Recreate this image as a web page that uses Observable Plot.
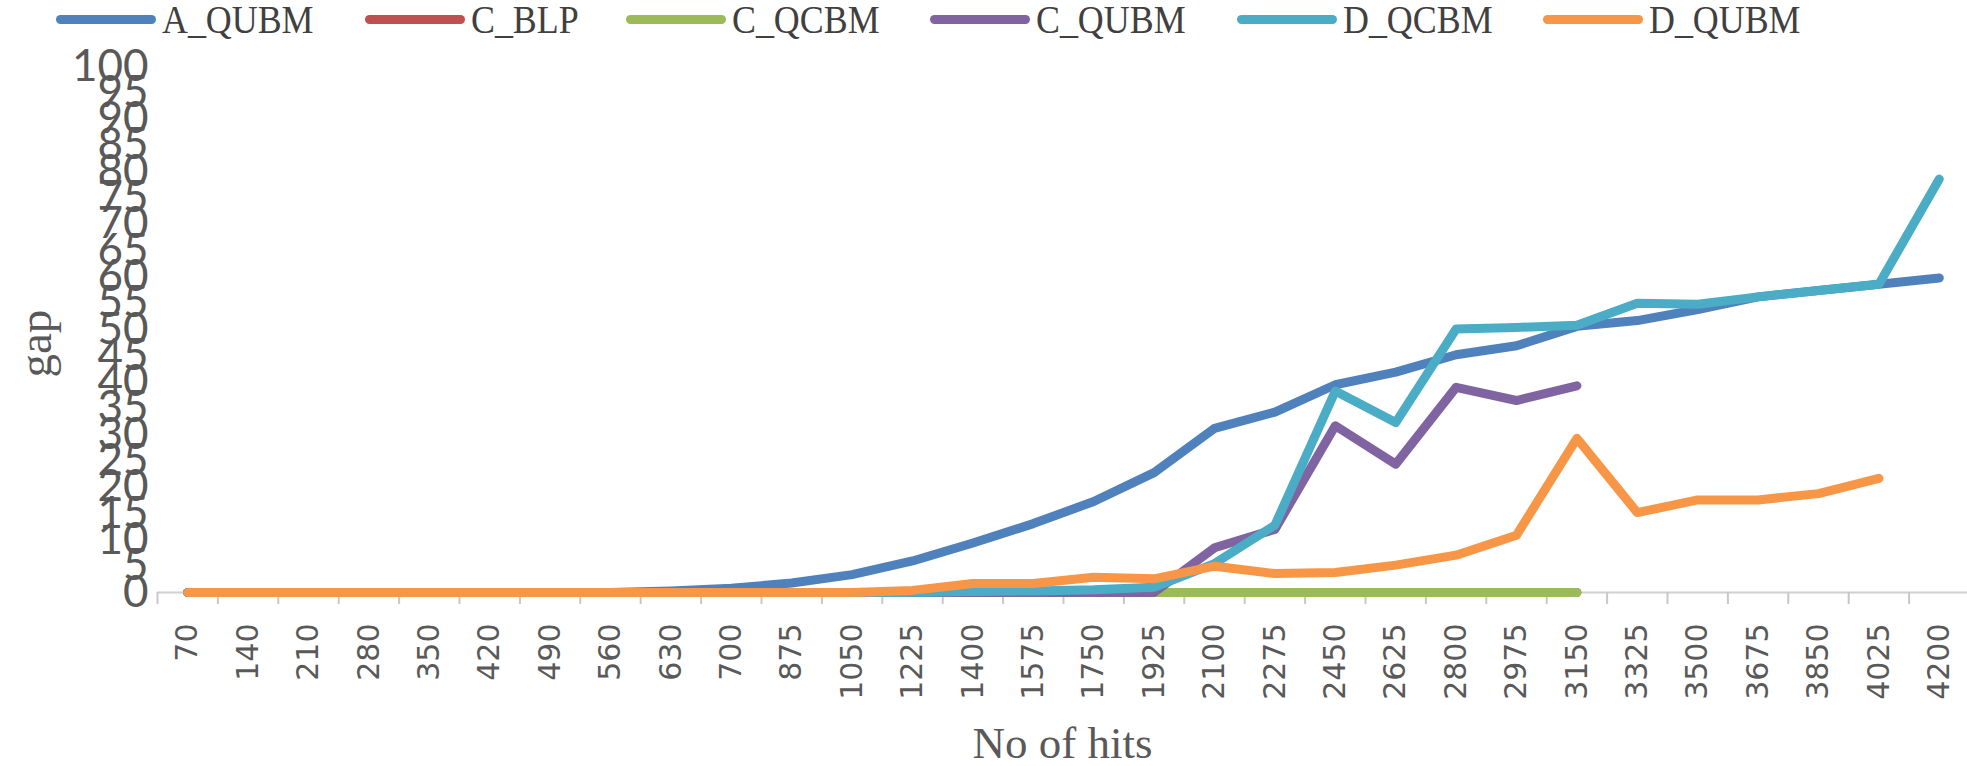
<!DOCTYPE html>
<html>
<head>
<meta charset="utf-8">
<script src="https://cdn.jsdelivr.net/npm/d3@7"></script>
<script src="https://cdn.jsdelivr.net/npm/@observablehq/plot@0.6"></script>
<style>
  html, body { margin: 0; padding: 0; background: #fff; }
  #legend { display: flex; align-items: center; height: 38px; padding-left: 56px; box-sizing: border-box;
            font-family: "Liberation Serif", serif; font-size: 39px; color: #404040; line-height: 1; }
  .item { display: flex; align-items: center; margin-right: 50px; }
  .sw { width: 100px; height: 9px; border-radius: 5px; margin-right: 6px; flex: none; }
  .tx { display: inline-block; transform: scaleX(0.92); transform-origin: left center; margin-right: -12px; }
  #chart svg { display: block; }
</style>
</head>
<body>
<div id="legend"></div>
<div id="chart"></div>
<script>
const cats = [70,140,210,280,350,420,490,560,630,700,875,1050,1225,1400,1575,1750,1925,2100,2275,2450,2625,2800,2975,3150,3325,3500,3675,3850,4025,4200];
const seriesNames = ["A_QUBM","C_BLP","C_QCBM","C_QUBM","D_QCBM","D_QUBM"];
const seriesColors = ["#4F81BD","#C0504D","#9BBB59","#8064A2","#4BACC6","#F79646"];
const A_QUBM = [0,0,0,0,0,0,0,0,0.3,0.8,1.8,3.4,6,9.4,13.1,17.3,22.8,31.2,34.3,39.5,41.9,45.2,46.9,50.6,51.7,53.8,56.2,57.4,58.6,59.8];
const C_BLP  = [0,0,0,0,0,0,0,0,0,0,0,0,0,0,0,0,0,0,0,0,0,0,0,0,null,null,null,null,null,null];
const C_QCBM = [0,0,0,0,0,0,0,0,0,0,0,0,0,0,0,0,0,0,0,0,0,0,0,0,null,null,null,null,null,null];
const C_QUBM = [0,0,0,0,0,0,0,0,0,0,0,0,0,0,0,0,0,8.5,12,31.7,24.4,39,36.5,39.3,null,null,null,null,null,null];
const D_QCBM = [0,0,0,0,0,0,0,0,0,0,0,0,0,0.2,0.3,0.5,1.0,5.5,12.8,38.3,32.3,50.1,50.4,50.8,55,54.8,56.2,57.4,58.6,78.6];
const D_QUBM = [0,0,0,0,0,0,0,0,0,0,0,0,0.4,1.7,1.7,2.9,2.6,5.0,3.6,3.8,5.2,7.1,10.9,29.3,15.2,17.6,17.6,18.8,21.7,null];
const yTicks = d3.range(0, 101, 5);
const xTitle = "No of hits";
const yTitle = "gap";

const seriesValues = [A_QUBM, C_BLP, C_QCBM, C_QUBM, D_QCBM, D_QUBM];
const table = seriesNames.flatMap((name, s) => seriesValues[s].map((v, i) => ({series: name, i, v})));
const catIdx = cats.map((_, i) => i);
const between = d3.range(-0.5, cats.length, 1);

// legend
const legend = document.getElementById("legend");
seriesNames.forEach((n, k) => {
  const it = document.createElement("div"); it.className = "item";
  const sw = document.createElement("div"); sw.className = "sw"; sw.style.background = seriesColors[k];
  const tx = document.createElement("span"); tx.className = "tx"; tx.textContent = n;
  it.appendChild(sw); it.appendChild(tx); legend.appendChild(it);
});

const chart = Plot.plot({
  width: 1967,
  height: 728,
  marginLeft: 157,
  marginRight: 0,
  marginTop: 28,
  marginBottom: 174,
  x: {domain: [-0.5, cats.length - 0.5], range: [157, 1969], axis: null},
  y: {domain: [0, 100], axis: null},
  color: {domain: seriesNames, range: seriesColors},
  marks: [
    Plot.ruleY([0], {stroke: "#d0d0d0", strokeWidth: 2}),
    Plot.axisX(between, {tickSize: 12, tickFormat: () => "", stroke: "#c8c8c8", strokeWidth: 2, label: null}),
    Plot.axisX(catIdx, {tickSize: 0, tickPadding: 31, tickRotate: -90, tickFormat: i => String(cats[i]),
      fontSize: 30, fontFamily: "DejaVu Sans", fill: "#595959", label: null}),
    Plot.axisY(yTicks, {tickSize: 0, tickPadding: 9, fontSize: 44, fontFamily: "Lato", fill: "#595959", label: null}),
    Plot.text([xTitle], {frameAnchor: "bottom", dy: 165, fontSize: 45, fontFamily: "Liberation Serif", fill: "#595959"}),
    Plot.text([yTitle], {frameAnchor: "left", dx: -122, dy: 48, rotate: -90, fontSize: 47, fontFamily: "Liberation Serif", fill: "#595959"}),
    Plot.line(table, {x: "i", y: "v", z: "series", stroke: "series", strokeWidth: 9,
      strokeLinecap: "round", strokeLinejoin: "round", curve: "linear"})
  ]
});
document.getElementById("chart").appendChild(chart);
</script>
</body>
</html>
